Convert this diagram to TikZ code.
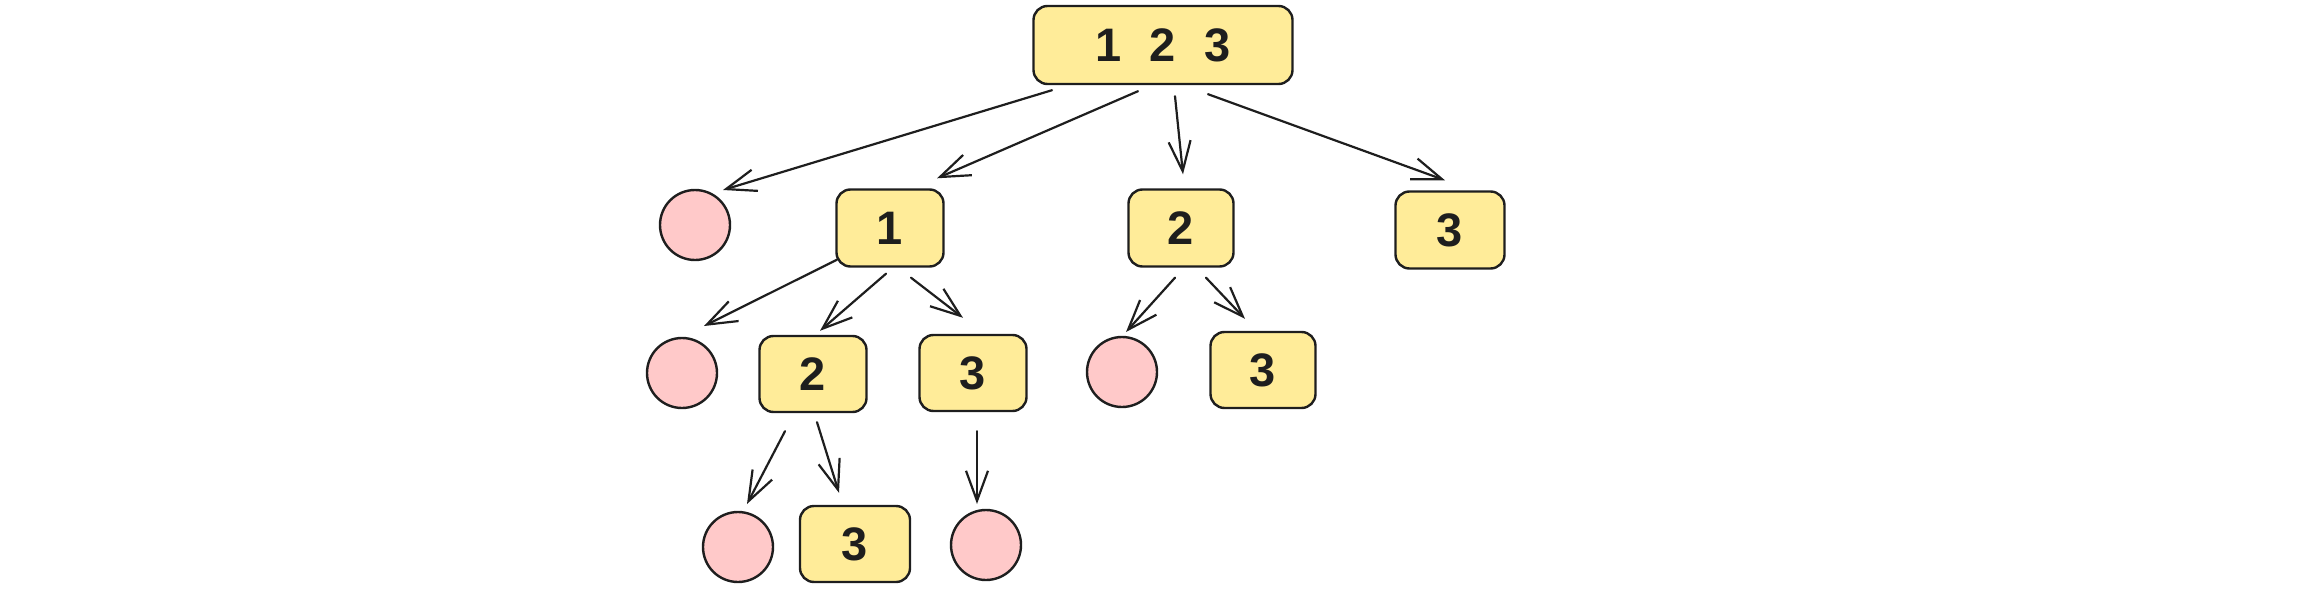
\documentclass[tikz,border=0pt]{standalone}
\usepackage{fontspec}
\setmainfont{Liberation Sans}
\usetikzlibrary{arrows.meta,calc}
\definecolor{ink}{HTML}{1E1E1E}
\definecolor{boxfill}{HTML}{FFEC99}
\definecolor{dotfill}{HTML}{FFC9C9}
\begin{document}
\begin{tikzpicture}[x=1pt,y=-1pt,
  numbox/.style={draw=ink, fill=boxfill, line width=2.4pt, rounded corners=14pt,
    minimum width=107pt, minimum height=77pt, inner sep=0pt, text=ink,
    font=\fontsize{47}{54}\selectfont\bfseries},
  dot/.style={circle, draw=ink, fill=dotfill, line width=2.4pt, minimum size=70pt, inner sep=0pt},
  arr/.style={draw=ink, line width=2.2pt, line cap=round,
    -{Straight Barb[length=30pt,width=22pt,line width=2.2pt]}}]
\useasboundingbox (0,0) rectangle (2324,594);
% level 0
\node[numbox, minimum width=259pt, minimum height=78pt] (root) at (1163,45) {1\hspace{28pt}2\hspace{28pt}3};
% level 1
\node[dot] (A) at (695,225) {};
\node[numbox] (n1) at (890,228) {1};
\node[numbox, minimum width=105pt] (n2) at (1181,228) {2};
\node[numbox, minimum width=109pt] (n3) at (1450,230) {3};
% level 2
\node[dot] (B) at (682,373) {};
\node[numbox, minimum height=76pt] (n12) at (813,374) {2};
\node[numbox, minimum height=76pt] (n13) at (973,373) {3};
\node[dot] (C) at (1122,372) {};
\node[numbox, minimum width=105pt, minimum height=76pt] (n23) at (1263,370) {3};
% level 3
\node[dot] (D) at (738,547) {};
\node[numbox, minimum width=110pt, minimum height=76pt] (n123) at (855,544) {3};
\node[dot] (E) at (986,545) {};
% arrows
\draw[arr] ($(root.south)+(-111,5)$) -- ($(A.center)+(28,-35)$);
\draw[arr] ($(root.south)+(-25,6)$) -- ($(n1.north)+(47,-10)$);
\draw[arr] ($(root.south)+(12,11)$) -- ($(n2.north)+(2,-14)$);
\draw[arr] ($(root.south)+(45,9)$) -- ($(n3.north)+(-5,-10)$);
\draw[arr] ($(n1.south)+(-53,-8)$) -- ($(B.center)+(22,-47)$);
\draw[arr] ($(n1.south)+(-4,6)$) -- ($(n12.north)+(7,-4)$);
\draw[arr] ($(n1.south)+(21,10)$) -- ($(n13.north)+(-10,-16)$);
\draw[arr] ($(n2.south)+(-6,10)$) -- ($(C.center)+(4,-40)$);
\draw[arr] ($(n2.south)+(25,10)$) -- ($(n23.north)+(-18,-12)$);
\draw[arr] ($(n12.south)+(-28,18)$) -- ($(D.center)+(9,-43)$);
\draw[arr] ($(n12.south)+(4,9)$) -- ($(n123.north)+(-16,-12)$);
\draw[arr] ($(n13.south)+(4,19)$) -- ($(E.center)+(-9,-41)$);
\end{tikzpicture}
\end{document}
